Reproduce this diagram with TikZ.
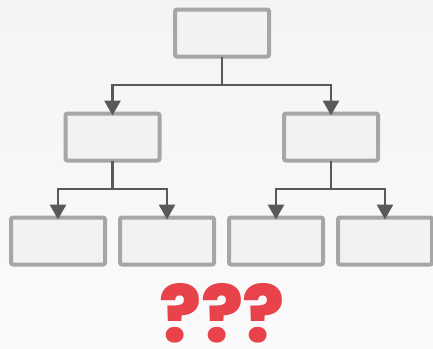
\documentclass[tikz,border=0pt]{standalone}
\usepackage{fontspec}
\newfontfamily\qfont{Poppins}[BoldFont={Poppins ExtraBold}]
\usetikzlibrary{arrows.meta}
\definecolor{bgtop}{HTML}{F4F4F4}
\definecolor{bgbot}{HTML}{FAFAFA}
\definecolor{boxfill}{HTML}{F2F2F2}
\definecolor{boxline}{HTML}{A6A6A6}
\definecolor{linkcol}{HTML}{595959}
\definecolor{qred}{HTML}{E8424A}
\tikzset{
  orgbox/.style={draw=boxline, fill=boxfill, line width=4pt, rounded corners=2pt,
    minimum width=94pt, minimum height=47pt, inner sep=0pt, outer sep=0pt},
  link/.style={draw=linkcol, line width=2.8pt},
  arrowlink/.style={link, -{Triangle[length=15pt,width=16pt]}, shorten >=-2pt},
}
\begin{document}
\begin{tikzpicture}[x=1pt,y=-1pt]
  \shade[top color=bgtop, bottom color=bgbot] (0,0) rectangle (433,348);
  \useasboundingbox (0,0) rectangle (433,348);

  % tree of boxes
  \node[orgbox] (root) at (222,33) {};
  \node[orgbox] (l) at (112.5,137) {};
  \node[orgbox] (r) at (331,137) {};
  \node[orgbox] (ll) at (58,241) {};
  \node[orgbox] (lr) at (167,241) {};
  \node[orgbox] (rl) at (276,241) {};
  \node[orgbox] (rr) at (385,241) {};

  % branch points
  \coordinate (jr) at (222,85);
  \coordinate (jl) at (112.5,189);
  \coordinate (jrr) at (331,189);

  \draw[link] (root.south) -- (jr);
  \draw[arrowlink] (jr) -| (l.north);
  \draw[arrowlink] (jr) -| (r.north);

  \draw[link] (l.south) -- (jl);
  \draw[arrowlink] (jl) -| (ll.north);
  \draw[arrowlink] (jl) -| (lr.north);

  \draw[link] (r.south) -- (jrr);
  \draw[arrowlink] (jrr) -| (rl.north);
  \draw[arrowlink] (jrr) -| (rr.north);

  % question marks
  \node[text=qred, inner sep=0pt, text depth=0pt, anchor=base] (q) at (222,342)
    {\qfont\bfseries\fontsize{78}{78}\selectfont ???};
\end{tikzpicture}
\end{document}
